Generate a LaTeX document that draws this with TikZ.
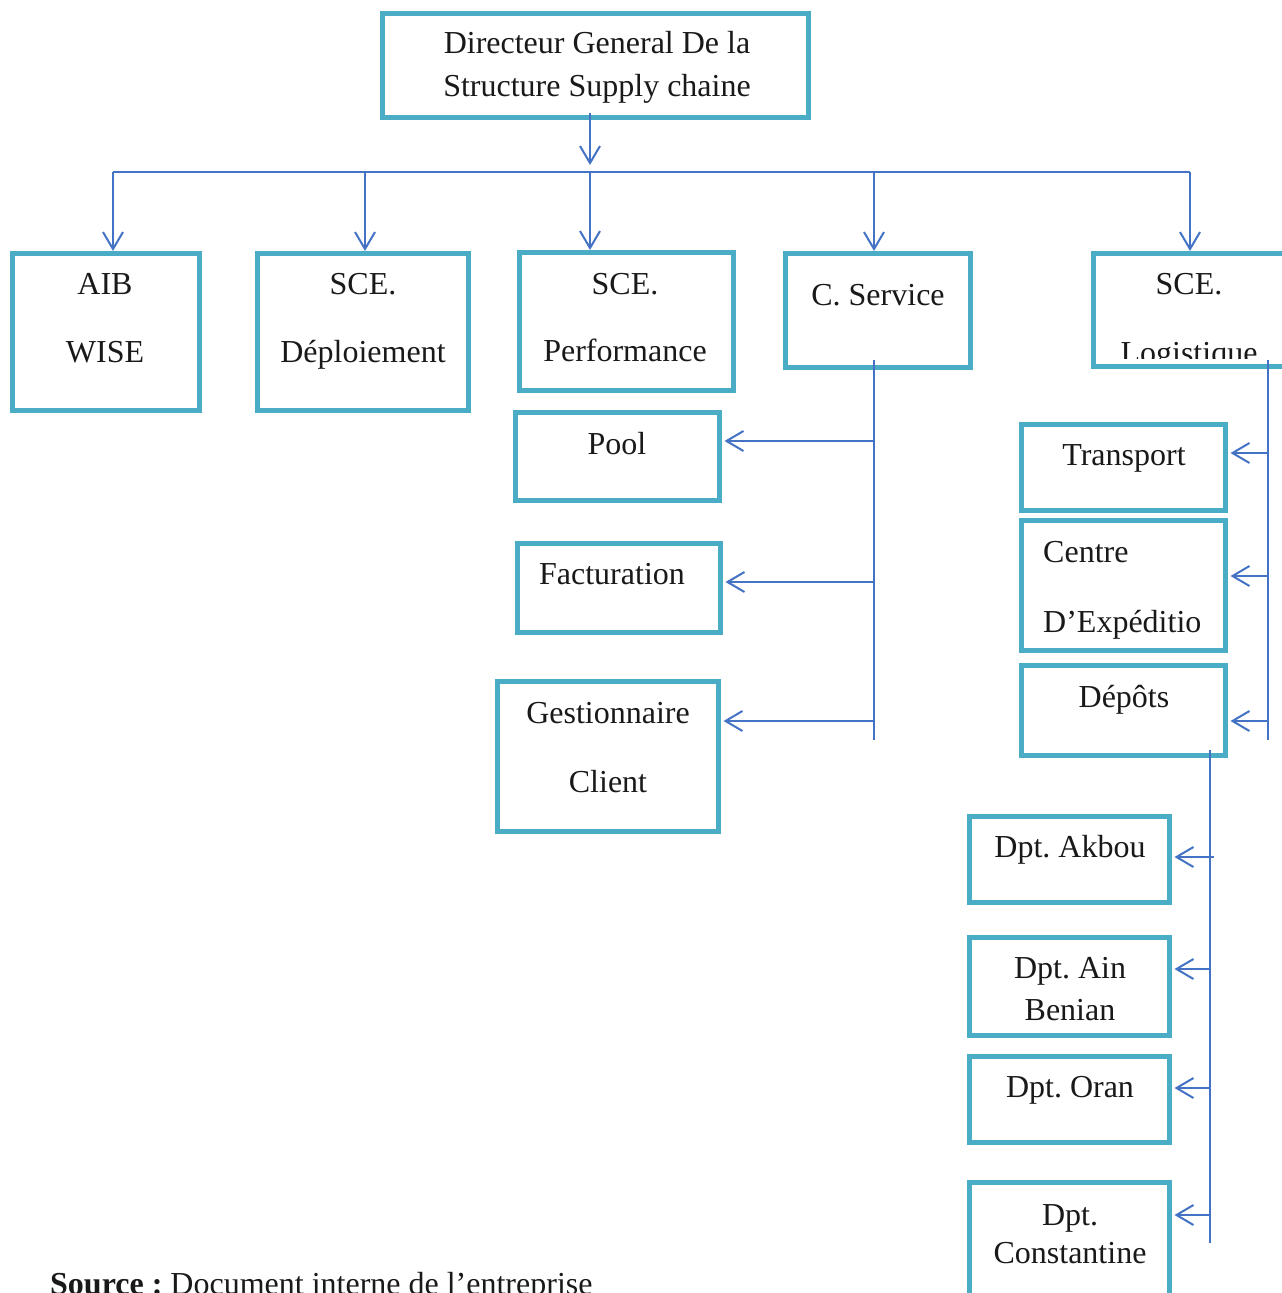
\documentclass[tikz,border=0pt]{standalone}
\usepackage{fontspec}
\setmainfont{Liberation Serif}
\usetikzlibrary{arrows.meta}
\definecolor{boxc}{HTML}{4BACC6}
\definecolor{linec}{HTML}{4472C4}
\newcommand\boxat[5]{\node[box, minimum width={(#4)-(#2)}, minimum height={(#5)-(#3)}] (#1) at ({((#2)+(#4))/2},{((#3)+(#5))/2}) {};}
\frenchspacing
\begin{document}
\begin{tikzpicture}[x=1pt,y=-1pt,
  box/.style={draw=boxc, line width=5pt, inner sep=0pt, outer sep=0pt},
  txt/.style={font=\fontsize{32}{40}\selectfont\frenchspacing, anchor=base, inner sep=0pt, text=black!90},
  conn/.style={draw=linec, line width=2pt},
  arr/.style={conn, -{Straight Barb[length=17pt,width=20pt,line width=2pt]}},
  arrd/.style={arr, shorten >=2pt},
  arrl/.style={arr, shorten >=5pt}]
\useasboundingbox[fill=white] (0,0) rectangle (1282,1293);

% boxes
\boxat{top}{382}{13}{808}{117}
\boxat{aib}{12}{253}{199}{410}
\boxat{dep}{257}{253}{468}{410}
\boxat{perf}{519}{252}{733}{390}
\boxat{cs}{785}{253}{970}{367}
\boxat{log}{1093}{253}{1310}{366}
\boxat{pool}{515.5}{412.5}{719.5}{500.5}
\boxat{fact}{517.5}{543.5}{720.5}{632.5}
\boxat{gest}{497.5}{681.5}{718.5}{831.5}
\boxat{trans}{1021.5}{424.5}{1225.5}{510.5}
\boxat{centre}{1021.5}{520.5}{1225.5}{650.5}
\boxat{depots}{1021.5}{665.5}{1225.5}{755.5}
\boxat{akbou}{969.5}{816.5}{1169.5}{902.5}
\boxat{ain}{969.5}{937.5}{1169.5}{1035.5}
\boxat{oran}{969.5}{1056.5}{1169.5}{1142.5}
\boxat{const}{969.5}{1182.5}{1169.5}{1320}

% texts
\node[txt] (ttop1) at (597,53) {Directeur General De la};
\node[txt] (ttop2) at (597,96) {Structure Supply chaine};
\node[txt] (taib1) at (105,294) {AIB};
\node[txt] (taib2) at (105,362) {WISE};
\node[txt] (tdep1) at (363,294) {SCE.};
\node[txt] (tdep2) at (363,362) {Déploiement};
\node[txt] (tperf1) at (625,294) {SCE.};
\node[txt] (tperf2) at (625,361) {Performance};
\node[txt] (tcs) at (878,305) {C. Service};
\node[txt] (tlog1) at (1189,294) {SCE.};
\begin{scope}
\clip (1096,256) rectangle (1300,358);
\node[txt] (tlog2) at (1189,363) {Logistique};
\end{scope}
\node[txt] (tpool) at (617,454) {Pool};
\node[txt] (tfact) at (612,584) {Facturation};
\node[txt] (tgest1) at (608,723) {Gestionnaire};
\node[txt] (tgest2) at (608,792) {Client};
\node[txt] (ttrans) at (1124,465) {Transport};
\node[txt, anchor=base west] (tcentre1) at (1043,562) {Centre};
\node[txt, anchor=base west] (tcentre2) at (1043,632) {D’Expéditio};
\node[txt] (tdepots) at (1124,707) {Dépôts};
\node[txt] (takbou) at (1070,857) {Dpt. Akbou};
\node[txt] (tain1) at (1070,978) {Dpt. Ain};
\node[txt] (tain2) at (1070,1020) {Benian};
\node[txt] (toran) at (1070,1097) {Dpt. Oran};
\node[txt] (tconst1) at (1070,1225) {Dpt.};
\node[txt] (tconst2) at (1070,1263) {Constantine};
\node[txt, anchor=base west] (tsrc) at (50,1294) {\textbf{Source :} Document interne de l’entreprise};

% top connectors
\coordinate (d0) at (590,113);
\coordinate (d1) at (590,165);
\draw[arr] (d0) -- (d1);
\coordinate (b1) at (113,172);
\coordinate (b2) at (365,172);
\coordinate (b3) at (590,172);
\coordinate (b4) at (874,172);
\coordinate (b5) at (1190,172);
\draw[conn] (b1) -- (b5);
\draw[arrd] (b1) -- (b1 |- aib.north);
\draw[arrd] (b2) -- (b2 |- dep.north);
\draw[arrd] (b3) -- (b3 |- perf.north);
\draw[arrd] (b4) -- (b4 |- cs.north);
\draw[arrd] (b5) -- (b5 |- log.north);

% C. Service bus
\coordinate (cs0) at (874,360);
\coordinate (cs1) at (874,740);
\draw[conn] (cs0) -- (cs1);
\coordinate (csa) at (874,441);
\coordinate (csb) at (874,582);
\coordinate (csc) at (874,721);
\draw[arrl] (csa) -- (csa -| pool.east);
\draw[arrl] (csb) -- (csb -| fact.east);
\draw[arrl] (csc) -- (csc -| gest.east);

% Logistique bus
\coordinate (lg0) at (1268,360);
\coordinate (lg1) at (1268,740);
\draw[conn] (lg0) -- (lg1);
\coordinate (lga) at (1268,453);
\coordinate (lgb) at (1268,576);
\coordinate (lgc) at (1268,721);
\draw[arrl] (lga) -- (lga -| trans.east);
\draw[arrl] (lgb) -- (lgb -| centre.east);
\draw[arrl] (lgc) -- (lgc -| depots.east);

% Depots bus
\coordinate (dp0) at (1210,750);
\coordinate (dp1) at (1210,1243);
\draw[conn] (dp0) -- (dp1);
\coordinate (dpa) at (1214,857);
\coordinate (dpb) at (1210,969);
\coordinate (dpc) at (1210,1088);
\coordinate (dpd) at (1210,1215);
\draw[arrl] (dpa) -- (dpa -| akbou.east);
\draw[arrl] (dpb) -- (dpb -| ain.east);
\draw[arrl] (dpc) -- (dpc -| oran.east);
\draw[arrl] (dpd) -- (dpd -| const.east);
\end{tikzpicture}
\end{document}
